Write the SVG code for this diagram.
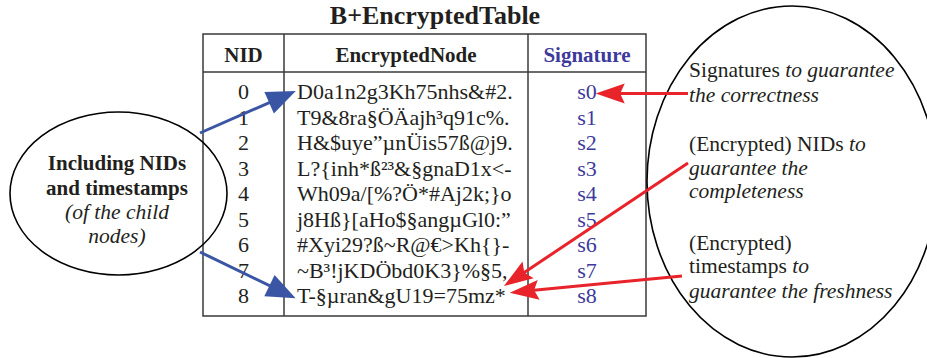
<svg xmlns="http://www.w3.org/2000/svg" width="927" height="358" viewBox="0 0 927 358">
  <style>
    text { font-family: "Liberation Serif", "Times New Roman", serif; fill: #231f20; }
    .title { font-size: 26px; font-weight: bold; text-anchor: middle; }
    .head { font-size: 21px; font-weight: bold; text-anchor: middle; }
    .cell { font-size: 22px; }
    .mid { text-anchor: middle; }
    .sig { fill: #3d3a9c; }
    .note { font-size: 21.5px; }
    .it { font-style: italic; }
    .rule { stroke: #3a3a3a; stroke-width: 1.5; fill: none; }
    .bubble { stroke: #000; stroke-width: 1.6; fill: none; }
    .blue { stroke: #3b55a5; stroke-width: 3; fill: none; marker-end: url(#headBlue); }
    .red { stroke: #e8232a; stroke-width: 3; fill: none; marker-end: url(#headRed); }
  </style>
  <defs>
    <marker id="headBlue" markerUnits="userSpaceOnUse" orient="auto" refX="-9" refY="0" markerWidth="40" markerHeight="40" viewBox="-20 -10 22 20" overflow="visible">
      <path d="M0,0 L-16,-6.5 L-16,6.5 Z" fill="#3b55a5"/>
    </marker>
    <marker id="headRed" markerUnits="userSpaceOnUse" orient="auto" refX="-9" refY="0" markerWidth="40" markerHeight="40" viewBox="-20 -10 22 20" overflow="visible">
      <path d="M0,0 L-16,-5.5 L-13.5,0 L-16,5.5 Z" fill="#e8232a"/>
    </marker>
  </defs>

  <rect width="927" height="358" fill="#ffffff"/>

  <!-- table -->
  <g id="table">
    <text class="title" x="435" y="24">B+EncryptedTable</text>
    <rect class="rule" x="203" y="34" width="443" height="282"/>
    <line class="rule" x1="203" y1="72" x2="646" y2="72"/>
    <line class="rule" x1="284" y1="34" x2="284" y2="316"/>
    <line class="rule" x1="528" y1="34" x2="528" y2="316"/>
    <text class="head" x="243.5" y="62">NID</text>
    <text class="head" x="406" y="62">EncryptedNode</text>
    <text class="head sig" x="587" y="62">Signature</text>

    <g>
      <text class="cell mid" x="243.5" y="99">0</text>
      <text class="cell mid" x="243.5" y="124.5">1</text>
      <text class="cell mid" x="243.5" y="150">2</text>
      <text class="cell mid" x="243.5" y="175.5">3</text>
      <text class="cell mid" x="243.5" y="201">4</text>
      <text class="cell mid" x="243.5" y="226.5">5</text>
      <text class="cell mid" x="243.5" y="252">6</text>
      <text class="cell mid" x="243.5" y="277.5">7</text>
      <text class="cell mid" x="243.5" y="303">8</text>

      <text class="cell" x="297" y="99">D0a1n2g3Kh75nhs&amp;#2.</text>
      <text class="cell" x="297" y="124.5">T9&amp;8ra§ÖÄajh³q91c%.</text>
      <text class="cell" x="297" y="150">H&amp;$uye”µnÜis57ß@j9.</text>
      <text class="cell" x="297" y="175.5">L?{inh*ß²³&amp;§gnaD1x&lt;-</text>
      <text class="cell" x="297" y="201">Wh09a/[%?Ö*#Aj2k;}o</text>
      <text class="cell" x="297" y="226.5">j8Hß}[aHo$§angµGl0:”</text>
      <text class="cell" x="297" y="252">#Xyi29?ß~R@€&gt;Kh{}-</text>
      <text class="cell" x="297" y="277.5">~B³!jKDÖbd0K3}%§5,</text>
      <text class="cell" x="297" y="303">T-§µran&amp;gU19=75mz*</text>

      <text class="cell mid sig" x="587" y="99">s0</text>
      <text class="cell mid sig" x="587" y="124.5">s1</text>
      <text class="cell mid sig" x="587" y="150">s2</text>
      <text class="cell mid sig" x="587" y="175.5">s3</text>
      <text class="cell mid sig" x="587" y="201">s4</text>
      <text class="cell mid sig" x="587" y="226.5">s5</text>
      <text class="cell mid sig" x="587" y="252">s6</text>
      <text class="cell mid sig" x="587" y="277.5">s7</text>
      <text class="cell mid sig" x="587" y="303">s8</text>
    </g>
  </g>

  <!-- left bubble -->
  <g id="child-info">
    <ellipse class="bubble" cx="118.5" cy="193.5" rx="108.5" ry="81.5"/>
    <text class="head" x="117" y="170">Including NIDs</text>
    <text class="head" x="117" y="194.5">and timestamps</text>
    <text class="note it mid" x="117" y="219">(of the child</text>
    <text class="note it mid" x="117" y="243">nodes)</text>
  </g>

  <!-- right bubble -->
  <g id="guarantees">
    <ellipse class="bubble" cx="792" cy="181.5" rx="145" ry="175.5"/>
    <text class="note" x="689" y="77">Signatures <tspan class="it">to guarantee</tspan></text>
    <text class="note it" x="689" y="102">the correctness</text>
    <text class="note" x="689" y="151">(Encrypted) NIDs <tspan class="it">to</tspan></text>
    <text class="note it" x="689" y="175">guarantee the</text>
    <text class="note it" x="689" y="198">completeness</text>
    <text class="note" x="689" y="250">(Encrypted)</text>
    <text class="note" x="689" y="273">timestamps <tspan class="it">to</tspan></text>
    <text class="note it" x="689" y="298">guarantee the freshness</text>
  </g>

  <!-- connectors -->
  <g id="connectors">
    <line class="blue" x1="200" y1="133" x2="280.8" y2="97.6"/>
    <line class="blue" x1="200" y1="252" x2="280.9" y2="291.1"/>
    <line class="red" x1="688" y1="93.5" x2="612" y2="93.6"/>
    <line class="red" x1="688" y1="163" x2="517.5" y2="277"/>
    <line class="red" x1="682" y1="276" x2="526" y2="291.1"/>
  </g>
</svg>
